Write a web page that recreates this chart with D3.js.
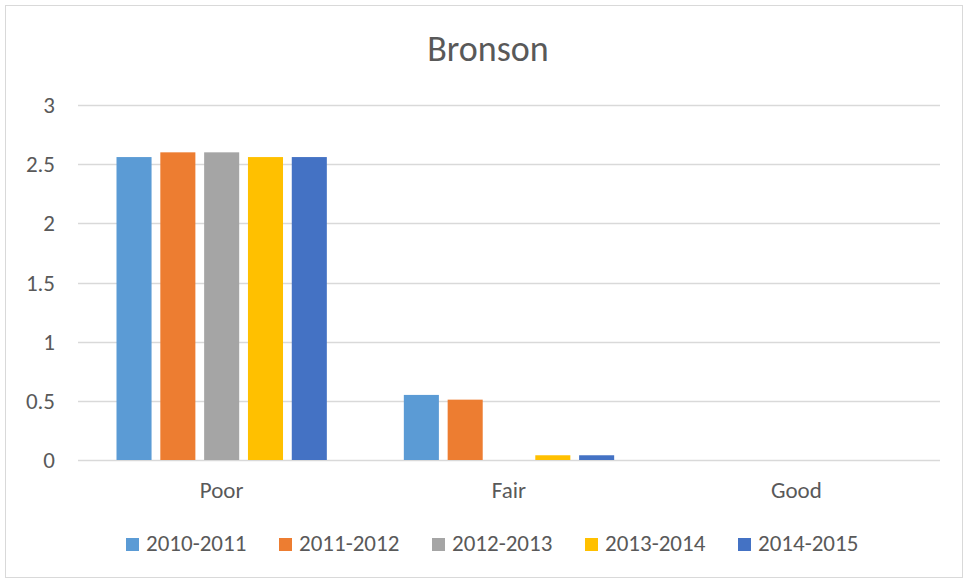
<!DOCTYPE html>
<html>
<head>
<meta charset="utf-8">
<script src="https://cdn.jsdelivr.net/npm/d3@7"></script>
<style>
  body { margin: 0; background: #fff; }
  svg text { font-family: Carlito, "Liberation Sans Narrow", "Open Sans", sans-serif; fill: #595959; }
</style>
</head>
<body>
<div id="chart"></div>
<script>
var categories = ["Poor", "Fair", "Good"];
var series = ["2010-2011", "2011-2012", "2012-2013", "2013-2014", "2014-2015"];
var colors = ["#5b9bd5", "#ed7d31", "#a5a5a5", "#ffc000", "#4472c4"];
// values per series, one entry per category
var v2010 = [2.56, 0.55, 0];
var v2011 = [2.6, 0.51, 0];
var v2012 = [2.6, 0, 0];
var v2013 = [2.56, 0.04, 0];
var v2014 = [2.56, 0.04, 0];
var yTicks = [0, 0.5, 1, 1.5, 2, 2.5, 3];

var values = [v2010, v2011, v2012, v2013, v2014];

var width = 968, height = 582;
var margin = {top: 105, right: 28, bottom: 122, left: 78};
var plotW = width - margin.left - margin.right,
    plotH = height - margin.top - margin.bottom;

var svg = d3.select("#chart").append("svg")
  .attr("width", width)
  .attr("height", height);

// outer border
svg.append("rect")
  .attr("x", 5.5).attr("y", 5.5)
  .attr("width", 957).attr("height", 572)
  .attr("fill", "#fff")
  .attr("stroke", "#d9d9d9");

svg.append("text")
  .attr("x", 488).attr("y", 61)
  .attr("text-anchor", "middle")
  .style("font-size", "36px")
  .text("Bronson");

var g = svg.append("g").attr("transform", "translate(" + margin.left + "," + margin.top + ")");

var x0 = d3.scaleBand().domain(categories).range([0, plotW]);
var x1 = d3.scaleBand().domain(series).range([38.5, x0.bandwidth() - 38.5]).paddingInner(0.2);
var y = d3.scaleLinear().domain([0, 3]).range([plotH, 0]);

// gridlines
g.append("g")
  .selectAll("line")
  .data(yTicks)
  .enter().append("line")
  .attr("x1", 0).attr("x2", plotW)
  .attr("y1", function(d) { return Math.round(y(d)) + 0.5; })
  .attr("y2", function(d) { return Math.round(y(d)) + 0.5; })
  .attr("stroke", "#d9d9d9")
  .attr("stroke-width", 1.3);

// y labels
g.append("g")
  .selectAll("text")
  .data(yTicks)
  .enter().append("text")
  .attr("x", -23)
  .attr("y", function(d) { return y(d); })
  .attr("dy", "0.35em")
  .attr("text-anchor", "end")
  .style("font-size", "23px")
  .text(function(d) { return d; });

// bars
var groups = g.selectAll("g.cat")
  .data(categories)
  .enter().append("g")
  .attr("class", "cat")
  .attr("transform", function(d) { return "translate(" + x0(d) + ",0)"; });

groups.selectAll("rect")
  .data(function(d, i) {
    return series.map(function(s, j) { return {s: s, j: j, v: values[j][i]}; });
  })
  .enter().append("rect")
  .attr("x", function(d) { return x1(d.s); })
  .attr("width", x1.bandwidth())
  .attr("y", function(d) { return y(d.v); })
  .attr("height", function(d) { return plotH - y(d.v); })
  .attr("fill", function(d) { return colors[d.j]; });

// category labels
g.append("g")
  .selectAll("text")
  .data(categories)
  .enter().append("text")
  .attr("x", function(d) { return x0(d) + x0.bandwidth() / 2; })
  .attr("y", plotH + 38)
  .attr("text-anchor", "middle")
  .style("font-size", "23px")
  .text(function(d) { return d; });

// legend
var legend = svg.append("g")
  .selectAll("g")
  .data(series)
  .enter().append("g")
  .attr("transform", function(d, i) { return "translate(" + (126 + i * 153) + ",538)"; });

legend.append("rect")
  .attr("width", 13).attr("height", 13)
  .attr("fill", function(d, i) { return colors[i]; });

legend.append("text")
  .attr("x", 20).attr("y", 13)
  .style("font-size", "23px")
  .text(function(d) { return d; });
</script>
</body>
</html>
